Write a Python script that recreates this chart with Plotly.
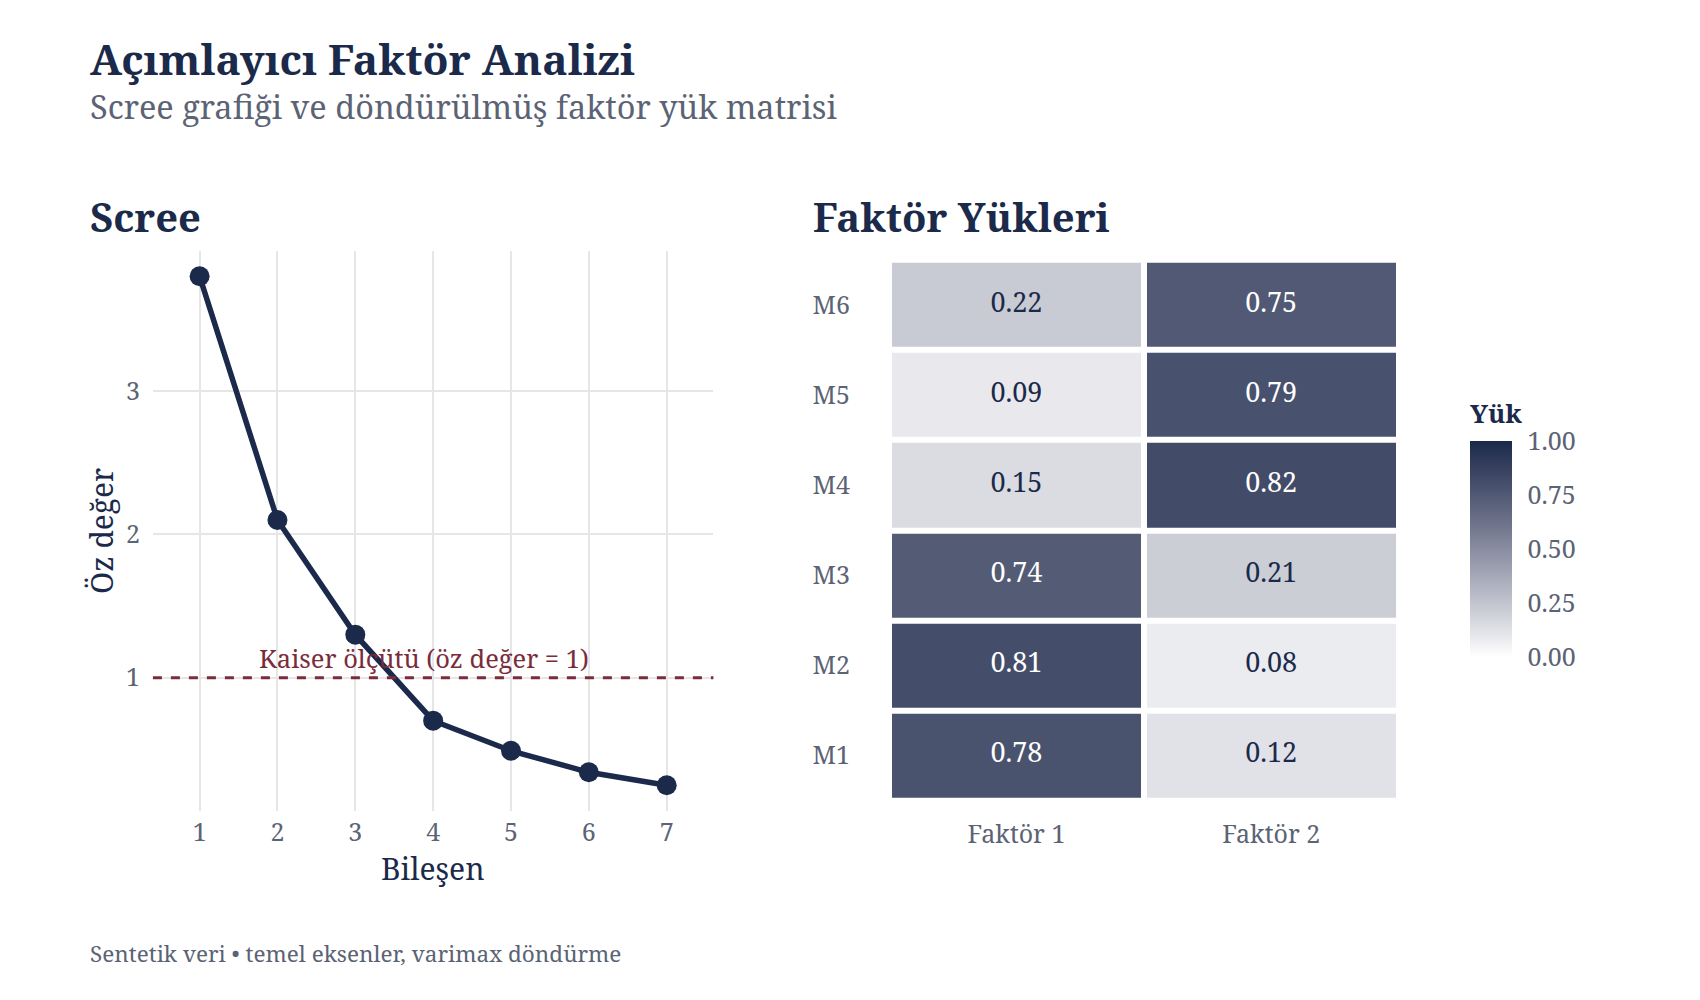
import plotly.graph_objects as go

# ---------------- data ----------------
components = [1, 2, 3, 4, 5, 6, 7]
eigenvalues = [3.80, 2.10, 1.30, 0.70, 0.49, 0.34, 0.25]
kaiser_value = 1.0

factors = ["Faktör 1", "Faktör 2"]
items = ["M1", "M2", "M3", "M4", "M5", "M6"]
loading_f1 = [0.78, 0.81, 0.74, 0.15, 0.09, 0.22]
loading_f2 = [0.12, 0.08, 0.21, 0.82, 0.79, 0.75]

legend_ticks = [0.0, 0.25, 0.5, 0.75, 1.0]
legend_ticktext = ["0.00", "0.25", "0.50", "0.75", "1.00"]

title_text = "Açımlayıcı Faktör Analizi"
subtitle_text = "Scree grafiği ve döndürülmüş faktör yük matrisi"
caption_text = "Sentetik veri • temel eksenler, varimax döndürme"

# ---------------- styling ----------------
FONT = "Noto Serif, DejaVu Serif, Liberation Serif, serif"
NAVY = "#1B2A4A"
GRAY = "#5B6374"
KAISER = "#7B2C3B"
GRID = "#E6E6E6"
W, H = 1700, 1000

CB_LEFT, CB_THICK = 1470, 42
CB_TOP, CB_BOTTOM = 443, 657
CB_TITLE_H = 43


def _lab_scale(lo, hi, n=11):
    def h2rgb(h):
        h = h.lstrip("#")
        return [int(h[i:i + 2], 16) / 255 for i in (0, 2, 4)]

    def lin(c):
        return c / 12.92 if c <= 0.04045 else ((c + 0.055) / 1.055) ** 2.4

    def delin(c):
        c = max(0.0, min(1.0, c))
        return 12.92 * c if c <= 0.0031308 else 1.055 * c ** (1 / 2.4) - 0.055

    ref = (0.95047, 1.0, 1.08883)

    def f(t):
        return t ** (1 / 3) if t > 0.008856 else 7.787 * t + 16 / 116

    def finv(t):
        return t ** 3 if t ** 3 > 0.008856 else (t - 16 / 116) / 7.787

    def to_lab(h):
        r, g, b = [lin(c) for c in h2rgb(h)]
        X = 0.4124 * r + 0.3576 * g + 0.1805 * b
        Y = 0.2126 * r + 0.7152 * g + 0.0722 * b
        Z = 0.0193 * r + 0.1192 * g + 0.9505 * b
        fx, fy, fz = f(X / ref[0]), f(Y / ref[1]), f(Z / ref[2])
        return (116 * fy - 16, 500 * (fx - fy), 200 * (fy - fz))

    def to_hex(L, a, b):
        fy = (L + 16) / 116
        fx = fy + a / 500
        fz = fy - b / 200
        X, Y, Z = finv(fx) * ref[0], finv(fy) * ref[1], finv(fz) * ref[2]
        r = 3.2406 * X - 1.5372 * Y - 0.4986 * Z
        g = -0.9689 * X + 1.8758 * Y + 0.0415 * Z
        bb = 0.0557 * X - 0.2040 * Y + 1.0570 * Z
        return "#%02x%02x%02x" % tuple(round(delin(c) * 255) for c in (r, g, bb))

    l1, l2 = to_lab(lo), to_lab(hi)
    out = []
    for i in range(n):
        t = i / (n - 1)
        out.append([t, to_hex(*[a + (b - a) * t for a, b in zip(l1, l2)])])
    return out


colorscale = _lab_scale("#FFFFFF", NAVY)

# ---------------- figure ----------------
fig = go.Figure()

# Scree line
fig.add_trace(go.Scatter(
    x=components, y=eigenvalues, mode="lines+markers",
    line=dict(color=NAVY, width=5.5),
    marker=dict(color=NAVY, size=20),
    xaxis="x", yaxis="y", showlegend=False, hoverinfo="x+y",
))

# Heatmap
z = [[a, b] for a, b in zip(loading_f1, loading_f2)]
fig.add_trace(go.Heatmap(
    x=factors, y=items, z=z, zmin=0, zmax=1,
    colorscale=colorscale, xgap=6, ygap=6,
    xaxis="x2", yaxis="y2",
    colorbar=dict(
        title=dict(text="<b>Yük</b>", side="top",
                   font=dict(family=FONT, size=26, color=NAVY)),
        x=CB_LEFT / W, xanchor="left", xpad=0,
        y=1 - CB_BOTTOM / H, yanchor="bottom", ypad=0,
        thickness=CB_THICK, thicknessmode="pixels",
        len=(CB_BOTTOM - CB_TOP) + CB_TITLE_H, lenmode="pixels",
        outlinewidth=0,
        tickvals=legend_ticks, ticktext=legend_ticktext,
        ticks="outside", ticklen=11, tickcolor="rgba(0,0,0,0)",
        tickfont=dict(family=FONT, size=25, color=GRAY),
    ),
    hovertemplate="%{y} – %{x}: %{z:.2f}<extra></extra>",
))

# Cell labels
cx, cy, ct, cc = [], [], [], []
for it, a, b in zip(items, loading_f1, loading_f2):
    for fac, v in zip(factors, (a, b)):
        cx.append(fac)
        cy.append(it)
        ct.append(f"{v:.2f}")
        cc.append("#FFFFFF" if v > 0.5 else NAVY)
fig.add_trace(go.Scatter(
    x=cx, y=cy, text=ct, mode="text",
    textfont=dict(family=FONT, size=27, color=cc),
    xaxis="x2", yaxis="y2", showlegend=False, hoverinfo="skip",
))

# Kaiser line
fig.add_hline(y=kaiser_value, line=dict(color=KAISER, width=3, dash="dash"),
              xref="x", yref="y")

# white guide ticks inside the colour bar (ggplot style)
shapes = []
for v in legend_ticks[1:-1]:
    yp = 1 - (CB_BOTTOM - v * (CB_BOTTOM - CB_TOP)) / H
    for x0, x1 in ((CB_LEFT, CB_LEFT + 8), (CB_LEFT + CB_THICK - 8, CB_LEFT + CB_THICK)):
        shapes.append(dict(type="line", xref="paper", yref="paper",
                           x0=x0 / W, x1=x1 / W, y0=yp, y1=yp,
                           line=dict(color="white", width=1.5)))

LEFT = 88
annotations = [
    dict(text="Kaiser ölçütü (öz değer = 1)", x=3.88, y=kaiser_value,
         xref="x", yref="y", xanchor="center", yanchor="bottom", yshift=1,
         showarrow=False, font=dict(family=FONT, size=25.5, color=KAISER)),
    dict(text=f"<b>{title_text}</b>", x=LEFT / W, y=1 - 59 / H, xref="paper", yref="paper",
         xanchor="left", yanchor="middle", showarrow=False,
         font=dict(family=FONT, size=42.5, color=NAVY)),
    dict(text=subtitle_text, x=LEFT / W, y=1 - 107 / H, xref="paper", yref="paper",
         xanchor="left", yanchor="middle", showarrow=False,
         font=dict(family=FONT, size=32.5, color=GRAY)),
    dict(text="<b>Scree</b>", x=LEFT / W, y=1 - 217 / H, xref="paper", yref="paper",
         xanchor="left", yanchor="middle", showarrow=False,
         font=dict(family=FONT, size=40, color=NAVY)),
    dict(text="<b>Faktör Yükleri</b>", x=811 / W, y=1 - 217 / H, xref="paper", yref="paper",
         xanchor="left", yanchor="middle", showarrow=False,
         font=dict(family=FONT, size=40, color=NAVY)),
    dict(text="Bileşen", x=433 / W, y=1 - 868 / H, xref="paper", yref="paper",
         xanchor="center", yanchor="middle", showarrow=False,
         font=dict(family=FONT, size=30, color=NAVY)),
    dict(text="Öz değer", x=101 / W, y=1 - 531 / H, xref="paper", yref="paper",
         xanchor="center", yanchor="middle", showarrow=False, textangle=-90,
         font=dict(family=FONT, size=30, color=NAVY)),
    dict(text=caption_text, x=LEFT / W, y=1 - 953 / H, xref="paper", yref="paper",
         xanchor="left", yanchor="middle", showarrow=False,
         font=dict(family=FONT, size=22.5, color=GRAY)),
]

tickfont = dict(family=FONT, size=25, color=GRAY)

fig.update_layout(
    width=W, height=H,
    margin=dict(l=0, r=0, t=0, b=0),
    paper_bgcolor="white", plot_bgcolor="white",
    font=dict(family=FONT, color=GRAY),
    showlegend=False,
    annotations=annotations,
    shapes=shapes,
    xaxis=dict(domain=[152.9 / W, 713.4 / W], range=[0.4, 7.6],
               tickvals=components, showgrid=True, gridcolor=GRID, gridwidth=1.6,
               zeroline=False, showline=False, ticks="", tickfont=tickfont,
               ticklabelstandoff=4, anchor="y"),
    yaxis=dict(domain=[1 - 811 / H, 1 - 250.5 / H], range=[0.07, 3.98],
               tickvals=[1, 2, 3], showgrid=True, gridcolor=GRID, gridwidth=1.6,
               zeroline=False, showline=False, ticks="", tickfont=tickfont,
               ticklabelstandoff=12, anchor="x"),
    xaxis2=dict(domain=[889 / W, 1398.6 / W], type="category",
                categoryorder="array", categoryarray=factors,
                showgrid=False, zeroline=False, showline=False, ticks="",
                tickfont=tickfont, ticklabelstandoff=16, anchor="y2"),
    yaxis2=dict(domain=[1 - 800.7 / H, 1 - 259.7 / H], type="category",
                categoryorder="array", categoryarray=items,
                showgrid=False, zeroline=False, showline=False, ticks="",
                tickfont=tickfont, ticklabelstandoff=38, anchor="x2"),
)

fig.write_html("out.html")
